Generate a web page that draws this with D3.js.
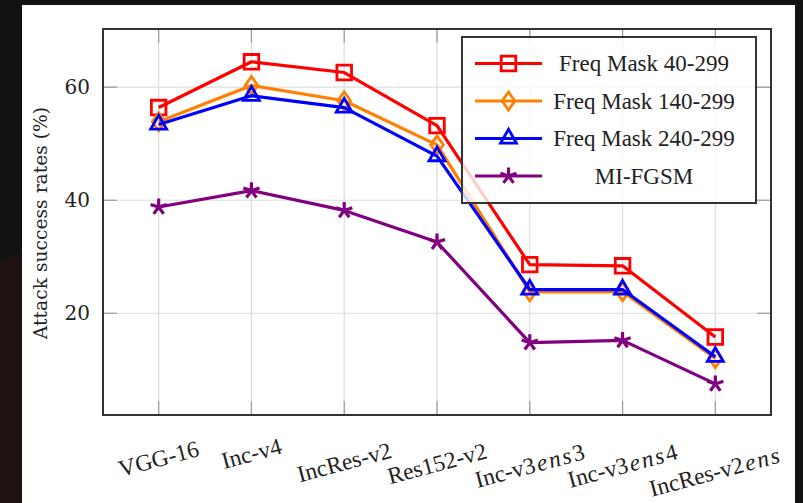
<!DOCTYPE html>
<html>
<head>
<meta charset="utf-8">
<script src="https://cdn.jsdelivr.net/npm/d3@7"></script>
<style>
  html, body { margin: 0; padding: 0; background: #111312; }
  svg { display: block; }
</style>
</head>
<body>
<svg id="chart" width="803" height="503"></svg>
<script>
// ---- data ----
const categories = ["VGG-16", "Inc-v4", "IncRes-v2", "Res152-v2", "Inc-v3ens3", "Inc-v3ens4", "IncRes-v2ens"];
const labelMain   = ["VGG-16", "Inc-v4", "IncRes-v2", "Res152-v2", "Inc-v3", "Inc-v3", "IncRes-v2"];
const labelItalic = ["", "", "", "", "ens", "ens", "ens"];
const labelTail   = ["", "", "", "", "3", "4", ""];

const seriesNames = ["Freq Mask 40-299", "Freq Mask 140-299", "Freq Mask 240-299", "MI-FGSM"];
const mask40  = [56.4, 64.5, 62.6, 53.2, 28.6, 28.4, 15.8];
const mask140 = [53.9, 60.3, 57.6, 49.8, 23.8, 23.8, 12.0];
const mask240 = [53.4, 58.5, 56.4, 47.8, 24.2, 24.2, 12.3];
const mifgsm  = [38.8, 41.7, 38.2, 32.6, 14.8, 15.2, 7.5];

const yTicks = [20, 40, 60];
const yLabel = "Attack success rates (%)";

// ---- styling ----
const colors  = ["#ff0000", "#ff8000", "#0000ff", "#800080"];
const markers = ["square", "diamond", "triangle", "star"];
const seriesValues = [mask40, mask140, mask240, mifgsm];

const svg = d3.select("#chart");

// background
svg.append("rect").attr("x", 0).attr("y", 0).attr("width", 803).attr("height", 503).attr("fill", "#111312");
svg.append("path").attr("d", "M0,264 Q10,256 22,250 L22,503 L0,503 Z").attr("fill", "#1f1012");
svg.append("rect").attr("x", 22).attr("y", 5).attr("width", 773).attr("height", 498).attr("fill", "#ffffff");

const L = 103, R = 771, T = 29, B = 415;

const x = d3.scalePoint().domain(categories).range([L, R]).padding(0.6);
const y = d3.scaleLinear().domain([2, 70.3]).range([B, T]);

const plot = svg.append("g");

// grid
plot.append("g").selectAll("line").data(categories).join("line")
  .attr("x1", d => x(d)).attr("x2", d => x(d)).attr("y1", T).attr("y2", B)
  .attr("stroke", "#dddddd").attr("stroke-width", 1.2);
plot.append("g").selectAll("line").data(yTicks).join("line")
  .attr("x1", L).attr("x2", R).attr("y1", d => y(d)).attr("y2", d => y(d))
  .attr("stroke", "#dddddd").attr("stroke-width", 1.2);

// ticks (inward, all four sides)
const tk = 14, tickColor = "#9a9a9a";
const ticksG = plot.append("g").attr("stroke", tickColor).attr("stroke-width", 1.2);
categories.forEach(c => {
  ticksG.append("line").attr("x1", x(c)).attr("x2", x(c)).attr("y1", B).attr("y2", B - tk);
  ticksG.append("line").attr("x1", x(c)).attr("x2", x(c)).attr("y1", T).attr("y2", T + tk);
});
yTicks.forEach(v => {
  ticksG.append("line").attr("x1", L).attr("x2", L + tk).attr("y1", y(v)).attr("y2", y(v));
  ticksG.append("line").attr("x1", R).attr("x2", R - tk).attr("y1", y(v)).attr("y2", y(v));
});

// y axis tick labels via d3 axis
const yAxis = d3.axisLeft(y).tickValues(yTicks).tickSize(0).tickPadding(13);
const yAxisG = svg.append("g").attr("transform", `translate(${L},0)`).call(yAxis);
yAxisG.select(".domain").remove();
yAxisG.selectAll("text")
  .attr("font-family", "'DejaVu Serif', serif").attr("font-size", 20).attr("fill", "#222");

// x axis tick labels
const xLab = svg.append("g");
categories.forEach((c, i) => {
  const t = xLab.append("text")
    .attr("text-anchor", "middle").attr("dominant-baseline", "central")
    .attr("font-family", "'Liberation Serif', 'Times New Roman', serif")
    .attr("font-size", 23.5).attr("fill", "#222");
  t.append("tspan").text(labelMain[i]);
  if (labelItalic[i]) {
    t.append("tspan").attr("font-style", "italic").attr("letter-spacing", 2).attr("dx", 2).text(labelItalic[i]);
  }
  if (labelTail[i]) t.append("tspan").text(labelTail[i]);
  const w = t.node().getComputedTextLength();
  const cy = 438 + 0.25 * w;
  t.attr("transform", `translate(${x(c)},${cy}) rotate(-15)`);
});

// y axis label
svg.append("text")
  .attr("transform", "translate(40,223) rotate(-90)")
  .attr("text-anchor", "middle").attr("dominant-baseline", "central")
  .attr("font-family", "'DejaVu Serif', serif").attr("font-size", 18.7).attr("fill", "#222")
  .text(yLabel);

// marker path generator
function markerPath(type) {
  const p = d3.path();
  if (type === "square") {
    const r = 7.3;
    p.rect(-r, -r, 2 * r, 2 * r);
  } else if (type === "diamond") {
    const w = 6.3, h = 9;
    p.moveTo(0, -h); p.lineTo(w, 0); p.lineTo(0, h); p.lineTo(-w, 0); p.closePath();
  } else if (type === "triangle") {
    const r = 9.2;
    p.moveTo(0, -r); p.lineTo(0.866 * r, 0.5 * r); p.lineTo(-0.866 * r, 0.5 * r); p.closePath();
  } else if (type === "star") {
    const r = 8.5;
    for (let k = 0; k < 5; k++) {
      const a = -Math.PI / 2 + k * 2 * Math.PI / 5;
      p.moveTo(0, 0); p.lineTo(r * Math.cos(a), r * Math.sin(a));
    }
  }
  return p.toString();
}

// lines + markers
const line = d3.line().x((d, i) => x(categories[i])).y(d => y(d));
seriesValues.forEach((vals, s) => {
  const g = plot.append("g");
  g.append("path").datum(vals).attr("d", line)
    .attr("fill", "none").attr("stroke", colors[s]).attr("stroke-width", 3.2)
    .attr("stroke-linejoin", "round");
  g.selectAll("path.mk").data(vals).join("path").attr("class", "mk")
    .attr("transform", (d, i) => `translate(${x(categories[i])},${y(d)})`)
    .attr("d", markerPath(markers[s]))
    .attr("fill", "none").attr("stroke", colors[s]).attr("stroke-width", markers[s] === "star" ? 3.2 : 2.8)
    .attr("stroke-linejoin", "miter");
});

// frame
svg.append("rect").attr("x", L).attr("y", T).attr("width", R - L).attr("height", B - T)
  .attr("fill", "none").attr("stroke", "#333").attr("stroke-width", 2);

// legend
const lg = svg.append("g");
lg.append("rect").attr("x", 462).attr("y", 37).attr("width", 294).attr("height", 166)
  .attr("fill", "#ffffff").attr("fill-opacity", 0.8).attr("stroke", "#333").attr("stroke-width", 2);
seriesNames.forEach((name, s) => {
  const yy = 63.5 + s * 37.5;
  lg.append("line").attr("x1", 475).attr("x2", 542).attr("y1", yy).attr("y2", yy)
    .attr("stroke", colors[s]).attr("stroke-width", 3.2);
  lg.append("path").attr("transform", `translate(508.5,${yy})`).attr("d", markerPath(markers[s]))
    .attr("fill", "none").attr("stroke", colors[s]).attr("stroke-width", markers[s] === "star" ? 3.2 : 2.8);
  lg.append("text").attr("x", 644).attr("y", yy)
    .attr("text-anchor", "middle").attr("dominant-baseline", "central")
    .attr("font-family", "'Liberation Serif', 'Times New Roman', serif")
    .attr("font-size", 23).attr("fill", "#222").text(name);
});
</script>
</body>
</html>
